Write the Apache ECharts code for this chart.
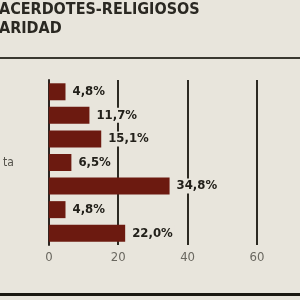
<!DOCTYPE html>
<html><head><meta charset="utf-8">
<style>html,body{margin:0;padding:0;background:#e8e5dc;}#c{width:300px;height:300px;}</style>
<script src="https://cdn.jsdelivr.net/npm/echarts@6/dist/echarts.min.js"></script>
</head><body><div id="c"></div>
<script>
const categories = ['', '', '', 'ta', '', '', ''];
const values = [4.8, 11.7, 15.1, 6.5, 34.8, 4.8, 22.0];
const xTicks = [0, 20, 40, 60];
const titleLines = ['ACERDOTES-RELIGIOSOS', 'ARIDAD'];

const chart = echarts.init(document.getElementById('c'), null, {renderer: 'canvas'});
chart.setOption({
  backgroundColor: '#e8e5dc',
  animation: false,
  grid: {left: 47, right: 43, top: 80, bottom: 55},
  xAxis: {
    type: 'value', min: xTicks[0], max: xTicks[xTicks.length - 1], interval: 20,
    axisLine: {show: false}, axisTick: {show: false},
    axisLabel: {color: '#6a6860', fontSize: 13, fontFamily: 'DejaVu Sans Condensed', margin: 6},
    splitLine: {show: true, lineStyle: {color: '#2c2a22', width: 2}}
  },
  yAxis: {
    type: 'category', data: categories, inverse: true,
    axisLine: {show: true, lineStyle: {color: '#2c2420', width: 2}},
    axisTick: {show: false},
    axisLabel: {color: '#55534c', fontSize: 12, fontFamily: 'DejaVu Sans Condensed', margin: 35}
  },
  series: [{
    type: 'bar', data: values, barWidth: 17, z: 3,
    itemStyle: {color: '#6c1a10'},
    label: {
      show: true, position: 'right', distance: 5,
      formatter: p => p.value.toFixed(1).replace('.', ',') + '%',
      color: '#22201a', fontSize: 13, fontWeight: 'bold', fontFamily: 'DejaVu Sans Condensed',
      backgroundColor: '#e8e5dc', padding: [1, 2]
    }
  }],
  graphic: [
    {type: 'text', left: -1, top: 2, style: {text: titleLines[0], fill: '#2a2822', font: 'bold 16px "DejaVu Sans Condensed"'}},
    {type: 'text', left: -1, top: 21, style: {text: titleLines[1], fill: '#2a2822', font: 'bold 16px "DejaVu Sans Condensed"'}},
    {type: 'rect', shape: {x: 0, y: 57, width: 300, height: 2}, style: {fill: '#3a3830'}},
    {type: 'rect', shape: {x: 0, y: 293, width: 300, height: 3}, style: {fill: '#1a1812'}}
  ]
});
</script></body></html>
